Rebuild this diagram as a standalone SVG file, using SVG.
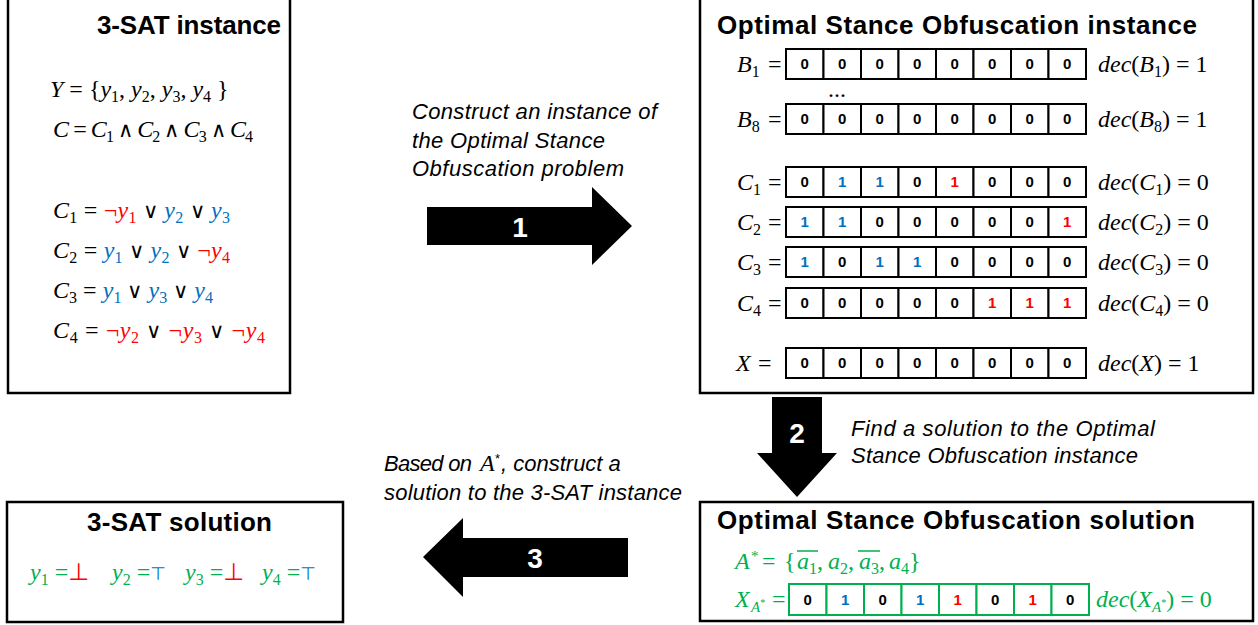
<svg xmlns="http://www.w3.org/2000/svg" xmlns:xlink="http://www.w3.org/1999/xlink" width="1258" height="625" viewBox="0 0 1258 625">
<style>
.box{fill:#fff;stroke:#000;stroke-width:2.5}
.title{font-family:"Liberation Sans",Arial,sans-serif;font-weight:bold;font-size:26px;fill:#000}
.math{font-family:"Liberation Serif","DejaVu Serif",serif;font-size:24px;fill:#000}
.it{font-style:italic}
.sub{font-size:16px}
.op{font-family:"DejaVu Sans",sans-serif;font-weight:200;font-size:21px}
.bit{font-family:"Liberation Sans",Arial,sans-serif;font-weight:bold;font-size:15px;text-anchor:middle;fill:#000}
.blue{fill:#0070C0}
.red{fill:#FF0000}
.green{fill:#00B050}
.lbl{font-family:"Liberation Sans",Arial,sans-serif;font-style:italic;font-size:22px;fill:#000}
.arrow{fill:#000}
.num{fill:#fff;font-family:"Liberation Sans",Arial,sans-serif;font-weight:bold;font-size:28px;text-anchor:middle}
.sym{font-family:"DejaVu Sans",sans-serif}
</style>
<defs>
<g id="row" fill="#fff" stroke="#000" stroke-width="2">
<rect x="0" y="0" width="37.5" height="30"/><rect x="37.5" y="0" width="37.5" height="30"/><rect x="75" y="0" width="37.5" height="30"/><rect x="112.5" y="0" width="37.5" height="30"/><rect x="150" y="0" width="37.5" height="30"/><rect x="187.5" y="0" width="37.5" height="30"/><rect x="225" y="0" width="37.5" height="30"/><rect x="262.5" y="0" width="37.5" height="30"/>
</g>
<g id="rowg" fill="#fff" stroke="#00B050" stroke-width="2">
<rect x="0" y="0" width="37.5" height="31"/><rect x="37.5" y="0" width="37.5" height="31"/><rect x="75" y="0" width="37.5" height="31"/><rect x="112.5" y="0" width="37.5" height="31"/><rect x="150" y="0" width="37.5" height="31"/><rect x="187.5" y="0" width="37.5" height="31"/><rect x="225" y="0" width="37.5" height="31"/><rect x="262.5" y="0" width="37.5" height="31"/>
</g>
</defs>
<rect width="1258" height="625" fill="#fff"/>

<g id="node-3sat-instance">
<rect class="box" x="8" y="-4" width="282" height="397"/>
<text class="title" x="97" y="34" textLength="184">3-SAT instance</text>
<text class="math" x="50" y="97"><tspan class="it">Y</tspan> = {<tspan class="it">y</tspan><tspan class="sub" dy="5">1</tspan><tspan dy="-5">, </tspan><tspan class="it">y</tspan><tspan class="sub" dy="5">2</tspan><tspan dy="-5">, </tspan><tspan class="it">y</tspan><tspan class="sub" dy="5">3</tspan><tspan dy="-5">, </tspan><tspan class="it">y</tspan><tspan class="sub" dy="5">4</tspan><tspan dy="-5"> }</tspan></text>
<text class="math" x="53" y="137" textLength="200"><tspan class="it">C</tspan> = <tspan class="it">C</tspan><tspan class="sub" dy="5">1</tspan><tspan dy="-5"> </tspan><tspan class="op">∧</tspan> <tspan class="it">C</tspan><tspan class="sub" dy="5">2</tspan><tspan dy="-5"> </tspan><tspan class="op">∧</tspan> <tspan class="it">C</tspan><tspan class="sub" dy="5">3</tspan><tspan dy="-5"> </tspan><tspan class="op">∧</tspan> <tspan class="it">C</tspan><tspan class="sub" dy="5">4</tspan></text>
<text class="math" x="53" y="218" textLength="177"><tspan class="it">C</tspan><tspan class="sub" dy="5">1</tspan><tspan dy="-5"> = </tspan><tspan class="red">¬<tspan class="it">y</tspan><tspan class="sub" dy="5">1</tspan></tspan><tspan dy="-5"> </tspan><tspan class="op">∨</tspan> <tspan class="blue"><tspan class="it">y</tspan><tspan class="sub" dy="5">2</tspan></tspan><tspan dy="-5"> </tspan><tspan class="op">∨</tspan> <tspan class="blue"><tspan class="it">y</tspan><tspan class="sub" dy="5">3</tspan></tspan></text>
<text class="math" x="53" y="258" textLength="177"><tspan class="it">C</tspan><tspan class="sub" dy="5">2</tspan><tspan dy="-5"> = </tspan><tspan class="blue"><tspan class="it">y</tspan><tspan class="sub" dy="5">1</tspan></tspan><tspan dy="-5"> </tspan><tspan class="op">∨</tspan> <tspan class="blue"><tspan class="it">y</tspan><tspan class="sub" dy="5">2</tspan></tspan><tspan dy="-5"> </tspan><tspan class="op">∨</tspan> <tspan class="red">¬<tspan class="it">y</tspan><tspan class="sub" dy="5">4</tspan></tspan></text>
<text class="math" x="53" y="298" textLength="160"><tspan class="it">C</tspan><tspan class="sub" dy="5">3</tspan><tspan dy="-5"> = </tspan><tspan class="blue"><tspan class="it">y</tspan><tspan class="sub" dy="5">1</tspan></tspan><tspan dy="-5"> </tspan><tspan class="op">∨</tspan> <tspan class="blue"><tspan class="it">y</tspan><tspan class="sub" dy="5">3</tspan></tspan><tspan dy="-5"> </tspan><tspan class="op">∨</tspan> <tspan class="blue"><tspan class="it">y</tspan><tspan class="sub" dy="5">4</tspan></tspan></text>
<text class="math" x="53" y="338" textLength="212"><tspan class="it">C</tspan><tspan class="sub" dy="5">4</tspan><tspan dy="-5"> = </tspan><tspan class="red">¬<tspan class="it">y</tspan><tspan class="sub" dy="5">2</tspan></tspan><tspan dy="-5"> </tspan><tspan class="op">∨</tspan> <tspan class="red">¬<tspan class="it">y</tspan><tspan class="sub" dy="5">3</tspan></tspan><tspan dy="-5"> </tspan><tspan class="op">∨</tspan> <tspan class="red">¬<tspan class="it">y</tspan><tspan class="sub" dy="5">4</tspan></tspan></text>
</g>

<g id="node-osi-instance">
<rect class="box" x="700" y="-4" width="553" height="397"/>
<text class="title" x="717" y="34" textLength="480">Optimal Stance Obfuscation instance</text>
<!-- B1 -->
<text class="math" y="72"><tspan x="737" class="it">B</tspan><tspan class="sub" dy="5">1</tspan><tspan x="768" dy="-5">=</tspan></text>
<use xlink:href="#row" x="786" y="49"/>
<text class="bit" y="69"><tspan x="804.75">0</tspan><tspan x="842.25">0</tspan><tspan x="879.75">0</tspan><tspan x="917.25">0</tspan><tspan x="954.75">0</tspan><tspan x="992.25">0</tspan><tspan x="1029.75">0</tspan><tspan x="1067.25">0</tspan></text>
<text class="math" x="1098" y="72"><tspan class="it">dec</tspan>(<tspan class="it">B</tspan><tspan class="sub" dy="5">1</tspan><tspan dy="-5">) = 1</tspan></text>
<text class="math" x="828" y="97" font-size="16">...</text>
<!-- B8 -->
<text class="math" y="127"><tspan x="737" class="it">B</tspan><tspan class="sub" dy="5">8</tspan><tspan x="768" dy="-5">=</tspan></text>
<use xlink:href="#row" x="786" y="104"/>
<text class="bit" y="124"><tspan x="804.75">0</tspan><tspan x="842.25">0</tspan><tspan x="879.75">0</tspan><tspan x="917.25">0</tspan><tspan x="954.75">0</tspan><tspan x="992.25">0</tspan><tspan x="1029.75">0</tspan><tspan x="1067.25">0</tspan></text>
<text class="math" x="1098" y="127"><tspan class="it">dec</tspan>(<tspan class="it">B</tspan><tspan class="sub" dy="5">8</tspan><tspan dy="-5">) = 1</tspan></text>
<!-- C1 -->
<text class="math" y="190"><tspan x="737" class="it">C</tspan><tspan class="sub" dy="5">1</tspan><tspan x="768" dy="-5">=</tspan></text>
<use xlink:href="#row" x="786" y="167"/>
<text class="bit" y="187"><tspan x="804.75">0</tspan><tspan x="842.25" class="blue">1</tspan><tspan x="879.75" class="blue">1</tspan><tspan x="917.25">0</tspan><tspan x="954.75" class="red">1</tspan><tspan x="992.25">0</tspan><tspan x="1029.75">0</tspan><tspan x="1067.25">0</tspan></text>
<text class="math" x="1098" y="190"><tspan class="it">dec</tspan>(<tspan class="it">C</tspan><tspan class="sub" dy="5">1</tspan><tspan dy="-5">) = 0</tspan></text>
<!-- C2 -->
<text class="math" y="230"><tspan x="737" class="it">C</tspan><tspan class="sub" dy="5">2</tspan><tspan x="768" dy="-5">=</tspan></text>
<use xlink:href="#row" x="786" y="207"/>
<text class="bit" y="227"><tspan x="804.75" class="blue">1</tspan><tspan x="842.25" class="blue">1</tspan><tspan x="879.75">0</tspan><tspan x="917.25">0</tspan><tspan x="954.75">0</tspan><tspan x="992.25">0</tspan><tspan x="1029.75">0</tspan><tspan x="1067.25" class="red">1</tspan></text>
<text class="math" x="1098" y="230"><tspan class="it">dec</tspan>(<tspan class="it">C</tspan><tspan class="sub" dy="5">2</tspan><tspan dy="-5">) = 0</tspan></text>
<!-- C3 -->
<text class="math" y="270"><tspan x="737" class="it">C</tspan><tspan class="sub" dy="5">3</tspan><tspan x="768" dy="-5">=</tspan></text>
<use xlink:href="#row" x="786" y="247"/>
<text class="bit" y="267"><tspan x="804.75" class="blue">1</tspan><tspan x="842.25">0</tspan><tspan x="879.75" class="blue">1</tspan><tspan x="917.25" class="blue">1</tspan><tspan x="954.75">0</tspan><tspan x="992.25">0</tspan><tspan x="1029.75">0</tspan><tspan x="1067.25">0</tspan></text>
<text class="math" x="1098" y="270"><tspan class="it">dec</tspan>(<tspan class="it">C</tspan><tspan class="sub" dy="5">3</tspan><tspan dy="-5">) = 0</tspan></text>
<!-- C4 -->
<text class="math" y="311"><tspan x="737" class="it">C</tspan><tspan class="sub" dy="5">4</tspan><tspan x="768" dy="-5">=</tspan></text>
<use xlink:href="#row" x="786" y="288"/>
<text class="bit" y="308"><tspan x="804.75">0</tspan><tspan x="842.25">0</tspan><tspan x="879.75">0</tspan><tspan x="917.25">0</tspan><tspan x="954.75">0</tspan><tspan x="992.25" class="red">1</tspan><tspan x="1029.75" class="red">1</tspan><tspan x="1067.25" class="red">1</tspan></text>
<text class="math" x="1098" y="311"><tspan class="it">dec</tspan>(<tspan class="it">C</tspan><tspan class="sub" dy="5">4</tspan><tspan dy="-5">) = 0</tspan></text>
<!-- X -->
<text class="math" y="371"><tspan x="736" class="it">X</tspan><tspan x="758">=</tspan></text>
<use xlink:href="#row" x="786" y="348"/>
<text class="bit" y="368"><tspan x="804.75">0</tspan><tspan x="842.25">0</tspan><tspan x="879.75">0</tspan><tspan x="917.25">0</tspan><tspan x="954.75">0</tspan><tspan x="992.25">0</tspan><tspan x="1029.75">0</tspan><tspan x="1067.25">0</tspan></text>
<text class="math" x="1098" y="371"><tspan class="it">dec</tspan>(<tspan class="it">X</tspan>) = 1</text>
</g>

<g id="node-osi-solution">
<rect class="box" x="700" y="502" width="553" height="119"/>
<text class="title" x="717" y="529" textLength="478">Optimal Stance Obfuscation solution</text>
<text class="math green" y="569"><tspan x="735" class="it">A</tspan><tspan x="751" dy="-8" font-size="15">*</tspan><tspan x="762" dy="8">=</tspan><tspan x="784">{</tspan><tspan x="797" class="it">a</tspan><tspan class="sub" dy="5">1</tspan><tspan dy="-5">,</tspan><tspan x="828" class="it">a</tspan><tspan class="sub" dy="5">2</tspan><tspan dy="-5">,</tspan><tspan x="859" class="it">a</tspan><tspan class="sub" dy="5">3</tspan><tspan dy="-5">,</tspan><tspan x="889" class="it">a</tspan><tspan class="sub" dy="5">4</tspan><tspan dy="-5">}</tspan></text>
<line x1="797" y1="551" x2="818" y2="551" stroke="#00B050" stroke-width="1.5"/>
<line x1="858" y1="551" x2="880" y2="551" stroke="#00B050" stroke-width="1.5"/>
<text class="math green" y="607"><tspan x="735" class="it">X</tspan><tspan x="751" dy="5" font-size="15" class="it">A</tspan><tspan dy="-6" font-size="10">*</tspan><tspan x="772" dy="1">=</tspan></text>
<use xlink:href="#rowg" x="789" y="584"/>
<text class="bit" y="605"><tspan x="807.75">0</tspan><tspan x="845.25" class="blue">1</tspan><tspan x="882.75">0</tspan><tspan x="920.25" class="blue">1</tspan><tspan x="957.75" class="red">1</tspan><tspan x="995.25">0</tspan><tspan x="1032.75" class="red">1</tspan><tspan x="1070.25">0</tspan></text>
<text class="math green" x="1096" y="607"><tspan class="it">dec</tspan>(<tspan class="it">X</tspan><tspan dy="5" font-size="15" class="it">A</tspan><tspan dy="-6" font-size="10">*</tspan><tspan dy="1">) = 0</tspan></text>
</g>

<g id="node-3sat-solution">
<rect class="box" x="7" y="502" width="336" height="120"/>
<text class="title" x="87" y="531" textLength="185">3-SAT solution</text>
<text class="math green" y="580"><tspan x="30" class="it">y</tspan><tspan class="sub" dy="5">1</tspan><tspan dy="-5"> =</tspan><tspan class="red sym">⊥</tspan><tspan x="112" class="it">y</tspan><tspan class="sub" dy="5">2</tspan><tspan dy="-5"> =</tspan><tspan class="blue sym" font-size="18">⊤</tspan><tspan x="185" class="it">y</tspan><tspan class="sub" dy="5">3</tspan><tspan dy="-5"> =</tspan><tspan class="red sym">⊥</tspan><tspan x="262" class="it">y</tspan><tspan class="sub" dy="5">4</tspan><tspan dy="-5"> =</tspan><tspan class="blue sym" font-size="18">⊤</tspan></text>
</g>

<g id="connectors">
<g id="arrow-1">
<polygon class="arrow" points="427,207 592,207 592,187 632,226 592,265 592,245 427,245"/>
<text class="num" x="520" y="237">1</text>
<text class="lbl" x="412" y="119" textLength="245">Construct an instance of</text>
<text class="lbl" x="412" y="148" textLength="193">the Optimal Stance</text>
<text class="lbl" x="412" y="176" textLength="212">Obfuscation problem</text>
</g>
<g id="arrow-2">
<polygon class="arrow" points="772,397 822,397 822,453 837,453 797,497 757,453 772,453"/>
<text class="num" x="797" y="443">2</text>
<text class="lbl" x="851" y="436" textLength="304">Find a solution to the Optimal</text>
<text class="lbl" x="851" y="463" textLength="287">Stance Obfuscation instance</text>
</g>
<g id="arrow-3">
<polygon class="arrow" points="628,538 463,538 463,518 423,557 463,597 463,577 628,577"/>
<text class="num" x="535" y="568">3</text>
<text class="lbl" y="471"><tspan x="384" textLength="88">Based on</tspan><tspan x="480" class="math" style="font-style:italic;font-size:24px">A</tspan><tspan x="495" dy="-8" style="font-size:13px;font-style:normal">*</tspan><tspan x="501" dy="8">, construct a</tspan></text>
<text class="lbl" x="384" y="500" textLength="298">solution to the 3-SAT instance</text>
</g>
</g>
</svg>
